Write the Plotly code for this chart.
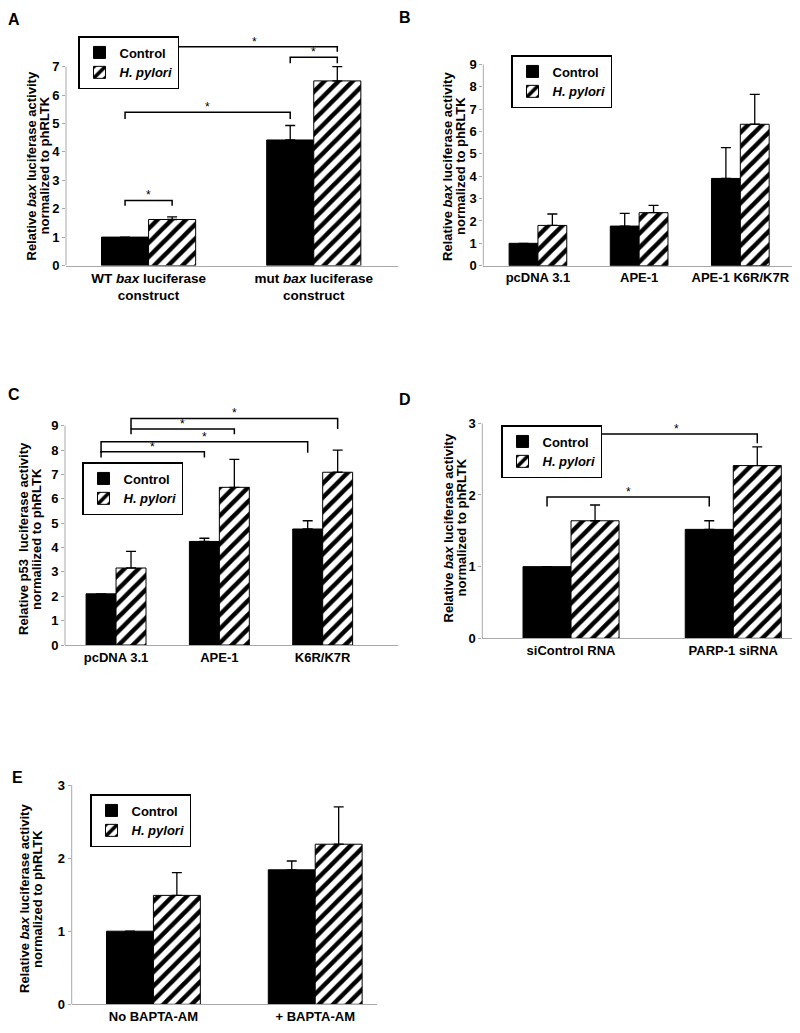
import plotly.graph_objects as go

W, H = 800, 1033
FONT = "Liberation Sans, Arial, sans-serif"
# the page body adds an 8px margin around the figure; compensate
OFF = 8

# ---------------- DATA ----------------
series_names = ["Control", "<i>H. pylori</i>"]

A_cats = ["WT <i>bax</i> luciferase<br>construct", "mut <i>bax</i> luciferase<br>construct"]
A_ctrl = [1.00, 4.42]
A_ctrl_err = [0.00, 0.51]
A_hp = [1.62, 6.50]
A_hp_err = [0.09, 0.50]
A_yticks = [0, 1, 2, 3, 4, 5, 6, 7]
# (group_a, series_a, group_b, series_b, y_line, y_leg_end)
A_brackets = [(0, 0, 0, 1, 2.29, 2.10), (0, 0, 1, 0, 5.40, 5.16),
              (1, 0, 1, 1, 7.33, 7.12), (0, 1, 1, 1, 7.70, 7.53)]

B_cats = ["pcDNA 3.1", "APE-1", "APE-1 K6R/K7R"]
B_ctrl = [1.00, 1.77, 3.90]
B_ctrl_err = [0.00, 0.57, 1.38]
B_hp = [1.80, 2.37, 6.32]
B_hp_err = [0.51, 0.33, 1.34]
B_yticks = [0, 1, 2, 3, 4, 5, 6, 7, 8, 9]
B_brackets = []

C_cats = ["pcDNA 3.1", "APE-1", "K6R/K7R"]
C_ctrl = [2.10, 4.25, 4.76]
C_ctrl_err = [0.00, 0.13, 0.34]
C_hp = [3.16, 6.47, 7.09]
C_hp_err = [0.68, 1.15, 0.91]
C_yticks = [0, 1, 2, 3, 4, 5, 6, 7, 8, 9]
C_brackets = [(0, 0, 1, 0, 7.93, 7.69), (0, 0, 2, 0, 8.34, 7.89),
              (0, 1, 1, 1, 8.86, 8.65), (0, 1, 2, 1, 9.30, 8.86)]

D_cats = ["siControl RNA", "PARP-1 siRNA"]
D_ctrl = [1.00, 1.52]
D_ctrl_err = [0.00, 0.12]
D_hp = [1.64, 2.41]
D_hp_err = [0.22, 0.26]
D_yticks = [0, 1, 2, 3]
D_brackets = [(0, 0, 1, 0, 1.97, 1.84), (0, 1, 1, 1, 2.85, 2.72)]

E_cats = ["No BAPTA-AM", "+ BAPTA-AM"]
E_ctrl = [1.00, 1.84]
E_ctrl_err = [0.00, 0.12]
E_hp = [1.49, 2.19]
E_hp_err = [0.31, 0.51]
E_yticks = [0, 1, 2, 3]
E_brackets = []

TITLE_BAX = ("Relative <i>bax</i> luciferase activity", "normalized to phRLTK")
TITLE_P53 = ("Relative p53  luciferase activity", "normaliized to phRLTK")

# ---------------- LAYOUT GEOMETRY (target pixels) ----------------
panels = [
    dict(label="A", cats=A_cats, ctrl=A_ctrl, ctrl_err=A_ctrl_err, hp=A_hp, hp_err=A_hp_err,
         yticks=A_yticks, brackets=A_brackets, title=TITLE_BAX,
         xl=66, xr=398, y0=265.5, ytp=66.7, rtop=7.85, xrange=[-0.50, 1.51], w=0.285,
         leg=(78, 36), lab=(14, 19), tx=(31.5, 44.5), ty=166, xfs=13.5),
    dict(label="B", cats=B_cats, ctrl=B_ctrl, ctrl_err=B_ctrl_err, hp=B_hp, hp_err=B_hp_err,
         yticks=B_yticks, brackets=B_brackets, title=TITLE_BAX,
         xl=483.3, xr=798, y0=265.7, ytp=64.3, rtop=9.0, xrange=[-0.54, 2.57], w=0.285,
         leg=(511, 55), lab=(405, 17.5), tx=(447.5, 460.5), ty=166.5, xfs=13),
    dict(label="C", cats=C_cats, ctrl=C_ctrl, ctrl_err=C_ctrl_err, hp=C_hp, hp_err=C_hp_err,
         yticks=C_yticks, brackets=C_brackets, title=TITLE_P53,
         xl=65, xr=398, y0=645, ytp=425.7, rtop=9.4, xrange=[-0.494, 2.729], w=0.29,
         leg=(82, 462), lab=(14, 394), tx=(23, 36), ty=539, xfs=13),
    dict(label="D", cats=D_cats, ctrl=D_ctrl, ctrl_err=D_ctrl_err, hp=D_hp, hp_err=D_hp_err,
         yticks=D_yticks, brackets=D_brackets, title=TITLE_BAX,
         xl=482.3, xr=798, y0=638.3, ytp=423.3, rtop=3.0, xrange=[-0.547, 1.399], w=0.296,
         leg=(501, 425), lab=(405, 399), tx=(447.5, 460.5), ty=528, xfs=13),
    dict(label="E", cats=E_cats, ctrl=E_ctrl, ctrl_err=E_ctrl_err, hp=E_hp, hp_err=E_hp_err,
         yticks=E_yticks, brackets=E_brackets, title=TITLE_BAX,
         xl=71.7, xr=376.7, y0=1004.3, ytp=785, rtop=3.0, xrange=[-0.505, 1.38], w=0.29,
         leg=(90, 794), lab=(17, 777), tx=(24, 37), ty=899, xfs=13),
]


def px_x(v):
    return (v - OFF) / W


def px_y(v):
    return 1 - (v - OFF) / H


fig = go.Figure()
shapes = []
annotations = []
layout_axes = {}
legends = {}

AXCOL = "#a8a8a8"

for k, p in enumerate(panels):
    n = k + 1
    sfx = "" if n == 1 else str(n)
    xa, ya = "x" + sfx, "y" + sfx
    legname = "legend" + sfx
    w = p["w"]
    groups = list(range(len(p["cats"])))

    fig.add_trace(go.Bar(
        x=groups, y=p["ctrl"], width=w, offset=-w, name=series_names[0],
        marker=dict(color="black", line=dict(color="black", width=1)),
        error_y=dict(type="data", array=p["ctrl_err"], arrayminus=[0] * len(groups),
                     symmetric=False, color="black", thickness=1.3, width=5),
        xaxis=xa, yaxis=ya, legend=legname, showlegend=True))
    fig.add_trace(go.Bar(
        x=groups, y=p["hp"], width=w, offset=0, name=series_names[1],
        marker=dict(color="white", line=dict(color="black", width=1),
                    pattern=dict(shape="/", fgcolor="black", bgcolor="white",
                                 size=10, solidity=0.45, fillmode="replace")),
        error_y=dict(type="data", array=p["hp_err"], arrayminus=[0] * len(groups),
                     symmetric=False, color="black", thickness=1.3, width=5),
        xaxis=xa, yaxis=ya, legend=legname, showlegend=True))

    ppu = (p["y0"] - p["ytp"]) / p["yticks"][-1]
    top_px = p["y0"] - p["rtop"] * ppu
    ydom = [px_y(p["y0"]), px_y(top_px)]
    xdom = [px_x(p["xl"]), px_x(p["xr"])]

    layout_axes["xaxis" + sfx] = dict(
        domain=xdom, range=p["xrange"], anchor=ya, tickmode="array", automargin=False,
        tickvals=groups, ticktext=p["cats"], showline=True, linecolor=AXCOL, linewidth=1,
        ticks="", showgrid=False, zeroline=False,
        tickfont=dict(family=FONT, size=p["xfs"], color="black", weight="bold"))
    layout_axes["yaxis" + sfx] = dict(
        domain=ydom, range=[0, p["rtop"]], anchor=xa, tickmode="array", automargin=False,
        tickvals=p["yticks"], ticktext=[str(v) for v in p["yticks"]],
        showline=False, ticks="outside", ticklen=3, tickcolor=AXCOL, tickwidth=1,
        showgrid=False, zeroline=False,
        tickfont=dict(family=FONT, size=13, color="black", weight="bold"))

    # y axis line up to top tick
    shapes.append(dict(type="line", xref=xa + " domain", yref=ya, x0=0, x1=0,
                       y0=0, y1=p["yticks"][-1], line=dict(color=AXCOL, width=1)))

    # significance brackets
    def bar_center(g, s):
        return g - w / 2 if s == 0 else g + w / 2
    for (ga, sa, gb, sb, yl, ye) in p["brackets"]:
        x0 = bar_center(ga, sa)
        x1 = bar_center(gb, sb)
        shapes.append(dict(type="path", xref=xa, yref=ya,
                           path=f"M {x0},{ye} L {x0},{yl} L {x1},{yl} L {x1},{ye}",
                           line=dict(color="black", width=1.5)))
        annotations.append(dict(xref=xa, yref=ya, x=(x0 + x1) / 2, y=yl, text="*",
                                showarrow=False, yanchor="bottom", yshift=-4,
                                font=dict(family=FONT, size=12, color="black")))

    # legend
    legends[legname] = dict(
        x=px_x(p["leg"][0]), y=px_y(p["leg"][1]), xanchor="left", yanchor="top",
        bgcolor="white", bordercolor="black", borderwidth=1.5,
        font=dict(family=FONT, size=13, color="black", weight="bold"),
        itemwidth=30, tracegroupgap=0)

    # panel letter
    annotations.append(dict(xref="paper", yref="paper", x=px_x(p["lab"][0]),
                            y=min(1.0, px_y(p["lab"][1])),
                            text=p["label"], showarrow=False, xanchor="center", yanchor="middle",
                            font=dict(family=FONT, size=16, color="black", weight="bold")))
    # y axis title (two lines)
    for line_text, lx in zip(p["title"], p["tx"]):
        annotations.append(dict(xref="paper", yref="paper", x=px_x(lx), y=px_y(p["ty"]),
                                text=line_text, showarrow=False, textangle=-90,
                                xanchor="center", yanchor="middle",
                                font=dict(family=FONT, size=13, color="black", weight="bold")))

fig.update_layout(
    width=W, height=H, margin=dict(l=0, r=0, t=0, b=0, autoexpand=False),
    paper_bgcolor="white", plot_bgcolor="white",
    shapes=shapes, annotations=annotations,
    font=dict(family=FONT, color="black"),
    **layout_axes, **legends)

fig.write_html("out.html")
